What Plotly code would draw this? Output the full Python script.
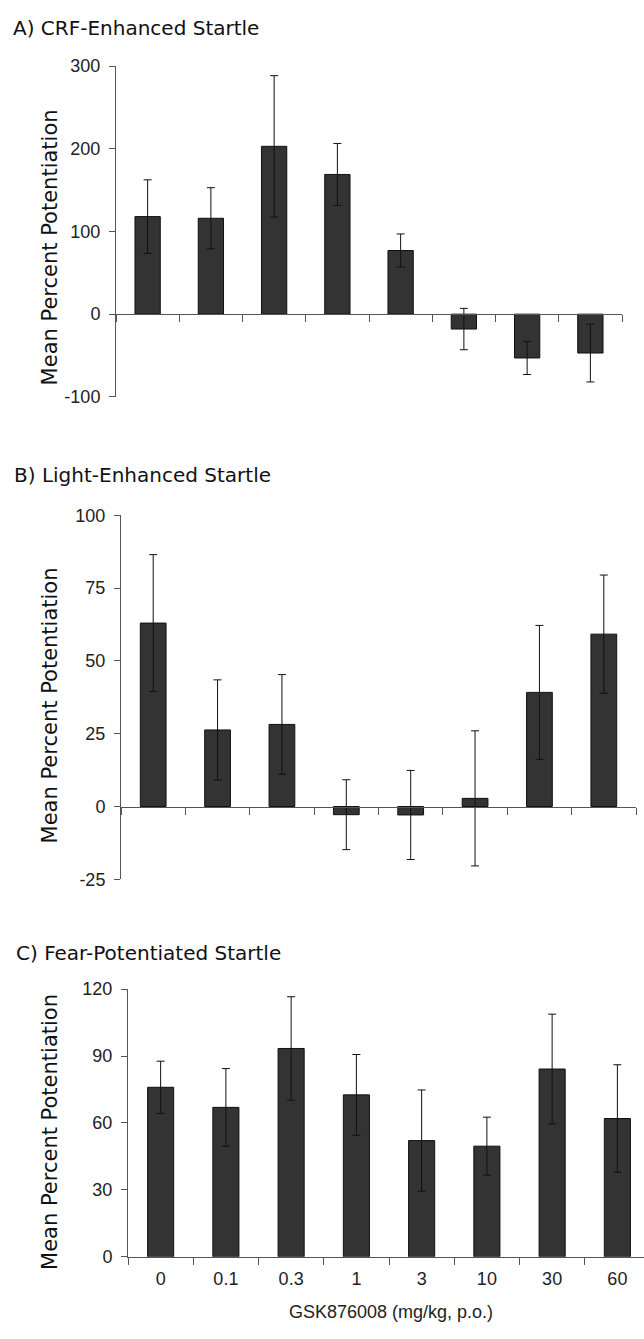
import plotly.graph_objects as go

# Doses of GSK876008 (mg/kg, p.o.)
doses = ["0", "0.1", "0.3", "1", "3", "10", "30", "60"]

# A) CRF-enhanced startle: mean percent potentiation and SEM
crf_mean = [118, 116, 203, 169, 77, -18, -53, -47]
crf_sem = [44.5, 37, 85.5, 37.5, 20, 25, 20, 35]

# B) Light-enhanced startle
les_mean = [63, 26.3, 28.2, -2.8, -2.9, 2.8, 39.2, 59.2]
les_sem = [23.5, 17.2, 17.1, 12, 15.3, 23.2, 23, 20.3]

# C) Fear-potentiated startle
fps_mean = [76, 67, 93.4, 72.6, 52.1, 49.6, 84.2, 62]
fps_sem = [11.7, 17.4, 23.2, 18.1, 22.7, 13, 24.6, 24.1]

# y-axis ticks per panel
crf_ticks = [-100, 0, 100, 200, 300]
les_ticks = [-25, 0, 25, 50, 75, 100]
fps_ticks = [0, 30, 60, 90, 120]

W, H = 644, 1339
BAR_FILL = "#333333"
AXIS_COL = "#555555"
TICK_FONT = dict(family="Liberation Sans, Arial, sans-serif", size=18, color="#222222")
TITLE_FONT = dict(family="DejaVu Sans, Verdana, sans-serif", size=20, color="#111111")
YTITLE_FONT = dict(family="DejaVu Sans, Verdana, sans-serif", size=21, color="#111111")


def px_x(p):
    return p / W


def px_y(p):
    return 1 - p / H


def tick_text(vals):
    # plain hyphen for negative numbers
    return [str(v) for v in vals]


fig = go.Figure()

panels = [
    # (mean, sem, xaxis id, yaxis id)
    (crf_mean, crf_sem, "x", "y"),
    (les_mean, les_sem, "x2", "y2"),
    (fps_mean, fps_sem, "x3", "y3"),
]
for mean, sem, xa, ya in panels:
    fig.add_trace(go.Bar(
        x=doses, y=mean, xaxis=xa, yaxis=ya, width=0.4,
        marker=dict(color=BAR_FILL, line=dict(color="#111111", width=1)),
        error_y=dict(type="data", array=sem, visible=True,
                     color="#111111", thickness=1, width=4),
        showlegend=False,
    ))

# plot-area geometry in pixels: (left, right, top, bottom)
geo_a = (116, 622, 57, 392.7)
geo_b = (121, 636, 513, 882.5)
geo_c = (128, 644, 994, 1265.7)
c_step = (650 - 128) / 8  # category width of the bottom panel

common_y = dict(showline=True, linecolor=AXIS_COL, linewidth=1,
                ticks="outside", ticklen=6, tickcolor=AXIS_COL, tickwidth=1,
                showgrid=False, zeroline=False, tickfont=TICK_FONT,
                ticklabelstandoff=5, fixedrange=True)
common_x = dict(type="category", showline=True, linecolor=AXIS_COL, linewidth=1,
                ticks="outside", ticklen=7, tickcolor=AXIS_COL, tickwidth=1,
                tickson="boundaries", showgrid=False, zeroline=False,
                tickfont=TICK_FONT, fixedrange=True)


def zero_pos(geo, lo, hi):
    top, bot = geo[2], geo[3]
    return px_y(top + (hi - 0) / (hi - lo) * (bot - top))


fig.update_layout(
    width=W, height=H,
    margin=dict(l=0, r=0, t=0, b=0),
    paper_bgcolor="white", plot_bgcolor="white",
    bargap=0.6,
    xaxis=dict(common_x, domain=[px_x(geo_a[0]), px_x(geo_a[1])], range=[-0.5, 7.5],
               anchor="free", position=zero_pos(geo_a, -100, 300), showticklabels=False),
    yaxis=dict(common_y, domain=[px_y(geo_a[3]), px_y(geo_a[2])], range=[-100, 300],
               tickvals=crf_ticks, ticktext=tick_text(crf_ticks), anchor="x"),
    xaxis2=dict(common_x, domain=[px_x(geo_b[0]), px_x(geo_b[1])], range=[-0.5, 7.5],
                anchor="free", position=zero_pos(geo_b, -25, 100), showticklabels=False),
    yaxis2=dict(common_y, domain=[px_y(geo_b[3]), px_y(geo_b[2])], range=[-25, 100],
                tickvals=les_ticks, ticktext=tick_text(les_ticks), anchor="x2"),
    xaxis3=dict(common_x, domain=[px_x(geo_c[0]), px_x(geo_c[1])],
                range=[-0.5, -0.5 + (geo_c[1] - geo_c[0]) / c_step],
                anchor="y3", ticklabelstandoff=6),
    yaxis3=dict(common_y, domain=[px_y(geo_c[3]), px_y(geo_c[2])], range=[0, 120],
                tickvals=fps_ticks, ticktext=tick_text(fps_ticks), anchor="x3"),
)

# panel titles
for text, x, y in [("A) CRF-Enhanced Startle", 11, 18),
                   ("B) Light-Enhanced Startle", 12, 472),
                   ("C) Fear-Potentiated Startle", 14, 957)]:
    fig.add_annotation(text=text, xref="paper", yref="paper", x=px_x(x), y=px_y(y),
                       xanchor="left", yanchor="middle", showarrow=False, font=TITLE_FONT)

# y-axis titles
for y in [241, 706, 1139]:
    fig.add_annotation(text="Mean Percent Potentiation", xref="paper", yref="paper",
                       x=px_x(50), y=px_y(y), xanchor="center", yanchor="middle",
                       textangle=-90, showarrow=False, font=YTITLE_FONT)

# x-axis title of the bottom panel
fig.add_annotation(text="GSK876008 (mg/kg, p.o.)", xref="paper", yref="paper",
                   x=px_x(391), y=px_y(1322), xanchor="center", yanchor="middle",
                   showarrow=False, font=dict(TICK_FONT, size=18))

fig.write_html("out.html")
